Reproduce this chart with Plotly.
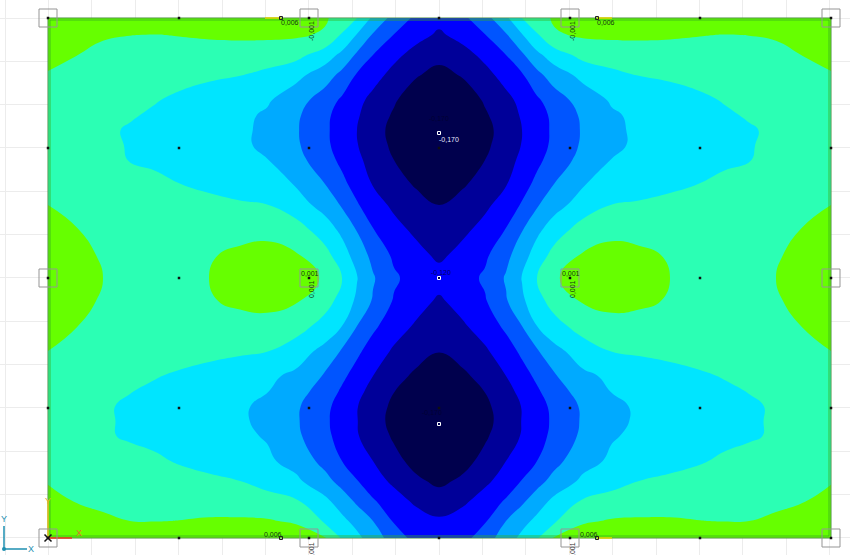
import numpy as np
import plotly.graph_objects as go

# Contour grid: left half of the slab, mirrored about the centre line
x_left = [48, 75, 103, 130, 155, 179, 209, 240, 267, 296, 325, 342, 357, 373, 394, 416, 439]
y_rows = [18, 35, 55, 75, 100, 115, 130, 145, 160, 185, 205, 230, 255, 278, 301, 326, 351, 376, 391, 406, 421, 436, 461, 481, 501, 521, 538]

# Contour band position (0 = top colour, 8 = darkest)
band_left = [
 [.35,.3,.3,.3,.3,.3,.3,.3,.3,.45,.88,1.42,2,3.2,4.36,5.2,5.7],
 [.7,.8,.92,.99,1.02,.97,.9,.85,.85,.87,1.12,2.1,3.07,4.1,5.03,5.67,6.15],
 [.8,.98,1.2,1.3,1.35,1.35,1.35,1.4,1.45,1.7,2.5,3.25,4.16,5,5.75,6.35,6.65],
 [1.05,1.2,1.35,1.5,1.6,1.72,1.85,1.97,2.27,2.72,3.52,4.28,5.1,5.64,6.3,6.9,7.35],
 [1.2,1.35,1.5,1.7,1.95,2.15,2.4,2.65,2.88,3.55,4.5,5.15,5.73,6.26,6.88,7.6,8.5],
 [1.3,1.48,1.68,1.92,2.12,2.3,2.53,2.8,3.12,3.83,4.78,5.4,5.9,6.45,7.12,7.9,9],
 [1.4,1.62,1.85,2.08,2.25,2.45,2.62,2.82,3.2,3.9,4.83,5.44,6,6.57,7.3,8.2,9.25],
 [1.42,1.62,1.83,2.05,2.23,2.42,2.6,2.85,3.17,3.85,4.8,5.4,5.96,6.52,7.2,8.05,9.2],
 [1.35,1.55,1.8,2.03,2.15,2.35,2.55,2.8,2.97,3.66,4.58,5.23,5.8,6.34,7,7.8,8.8],
 [1.15,1.3,1.45,1.6,1.8,1.97,2.2,2.5,2.77,3.03,3.97,4.73,5.37,6.03,6.55,7.1,7.6],
 [1,1.15,1.3,1.45,1.55,1.62,1.7,1.85,1.97,2.55,3.37,4.1,4.9,5.58,6.19,6.58,7],
 [.85,.97,1.15,1.27,1.33,1.35,1.3,1.2,1.15,1.55,2.5,3.22,4.05,4.95,5.67,6.2,6.6],
 [.6,.85,1.05,1.2,1.27,1.22,1.05,.88,.82,.92,1.68,2.56,3.42,4.28,5.18,5.68,6.2],
 [.5,.75,1,1.2,1.25,1.2,1,.8,.7,.8,1.05,2,2.95,3.9,4.85,5.4,5.6],
 [.6,.85,1.05,1.2,1.27,1.22,1.05,.88,.82,.92,1.6,2.37,3.18,4.1,5.09,5.6,6.15],
 [.9,.98,1.15,1.27,1.35,1.37,1.33,1.23,1.2,1.55,2.39,3,4,4.8,5.55,6.12,6.55],
 [1,1.15,1.3,1.45,1.55,1.63,1.72,1.85,1.97,2.53,3.29,4.1,4.8,5.44,6.14,6.55,6.95],
 [1.2,1.4,1.6,1.78,1.95,2.12,2.36,2.6,2.82,3.19,4.12,4.8,5.38,6,6.62,7.2,7.8],
 [1.3,1.5,1.72,1.97,2.15,2.33,2.55,2.75,2.96,3.58,4.45,5.13,5.75,6.28,6.97,7.7,8.6],
 [1.4,1.62,1.9,2.12,2.27,2.44,2.65,2.87,3.2,3.85,4.76,5.38,5.96,6.52,7.2,8,9.1],
 [1.42,1.65,1.88,2.14,2.3,2.46,2.65,2.87,3.23,3.88,4.83,5.43,5.97,6.57,7.3,8.2,9.25],
 [1.35,1.58,1.88,2.12,2.25,2.42,2.62,2.83,3.07,3.8,4.75,5.37,5.93,6.47,7.13,7.95,9],
 [1.2,1.35,1.5,1.65,1.85,2.08,2.34,2.61,2.84,3.34,4.32,5,5.48,6,6.72,7.3,7.9],
 [1.05,1.2,1.32,1.45,1.55,1.65,1.8,2,2.39,2.81,3.67,4.36,4.96,5.54,6.22,6.83,7.2],
 [.78,1.02,1.1,1.18,1.22,1.25,1.3,1.45,1.6,1.9,2.77,3.48,4.18,4.9,5.54,6.2,6.55],
 [.5,.75,.92,1,1.02,.99,.93,.9,.92,1.12,2.14,2.75,3.33,4,5.1,5.5,5.85],
 [.3,.3,.3,.3,.3,.3,.3,.3,.3,.5,.9,2.1,2.75,3.5,4.45,5.35,5.6],
]
band_colors = ["#00004d", "#000099", "#0000ff", "#0055ff", "#00aaff", "#00e5ff", "#2bffb4", "#66ff00"]

# Mesh
node_x = [48, 179, 309, 439, 570, 700, 831]
node_y = [18, 148, 278, 408, 538]
support_x = [48, 309, 570, 831, 48, 309, 570, 831, 48, 309, 570, 831]
support_y = [18, 18, 18, 18, 278, 278, 278, 278, 538, 538, 538, 538]
peak_x = [439, 439, 439]
peak_y = [133, 278, 424]
edge_mark_x = [281, 597, 281, 597]
edge_mark_y = [18, 18, 538, 538]

label_dark = "#123a12"
labels = [
 ("0,006", 290, 22, 0, label_dark), ("-0,001", 311, 31, -90, label_dark),
 ("0,006", 606, 22, 0, label_dark), ("-0,001", 572, 31, -90, label_dark),
 ("0,001", 310, 273, 0, label_dark), ("0,001", 571, 273, 0, label_dark),
 ("0,001", 311, 289, -90, label_dark), ("0,001", 572, 289, -90, label_dark),
 ("0,006", 273, 534, 0, label_dark), ("0,006", 589, 534, 0, label_dark),
 (",001", 311, 549, -90, "#333333"), (",001", 572, 549, -90, "#333333"),
 ("-0,170", 449, 139, 0, "#e8e8ff"), ("-0,170", 439, 118, 0, "#000033"),
 ("-0,170", 432, 412, 0, "#000033"), ("-0,120", 441, 272, 0, "#000066"),
]

x_all = np.array(x_left + [2 * 439.5 - v for v in x_left[-2::-1]])
band = np.array(band_left)
band_all = np.hstack([band, band[:, -2::-1]])
stress = 0.015 - 0.020 * band_all

n = len(band_colors)
scale = []
for i, c in enumerate(band_colors):
    scale += [[i / n, c], [(i + 1) / n, c]]

fig = go.Figure()
fig.add_trace(go.Contour(
    x=x_all, y=y_rows, z=stress, zmin=-0.145, zmax=0.015, colorscale=scale, showscale=False,
    autocontour=False, contours=dict(start=-0.125, end=-0.005, size=0.02, coloring="fill", showlines=False),
    line=dict(width=0, smoothing=1.3), hoverinfo="skip",
))

def seg(xs, ys, color, width=1):
    fig.add_trace(go.Scatter(x=xs, y=ys, mode="lines", line=dict(color=color, width=width), hoverinfo="skip"))

frame_x = [48, 831, 831, 48, 48]
frame_y = [18, 18, 538, 538, 18]
seg([50, 829, 829, 50, 50], [20, 20, 536, 536, 20], "#38b020", 0.8)
seg(frame_x, frame_y, "#4a8f40", 1)
seg([265, 281], [18, 18], "#e8d800", 1.5)
seg([597, 612], [18, 18], "#e8d800", 1.5)
seg([597, 612], [538, 538], "#e8d800", 1.5)
seg([48, 72], [538, 538], "#f03020", 1.5)
seg([48, 48], [538, 500], "#e8c020", 1.5)
seg([4, 4], [549, 526], "#1e8fb0", 1.5)
seg([4, 27], [549, 549], "#1e8fb0", 1.5)

mx, my = np.meshgrid(node_x, node_y)
fig.add_trace(go.Scatter(x=mx.ravel(), y=my.ravel(), mode="markers",
    marker=dict(symbol="square", size=2.5, color="#101010"), hoverinfo="skip"))
fig.add_trace(go.Scatter(x=support_x, y=support_y, mode="markers",
    marker=dict(symbol="square-open", size=18, color="#959595", line=dict(width=1)), hoverinfo="skip"))
fig.add_trace(go.Scatter(x=peak_x, y=peak_y, mode="markers",
    marker=dict(symbol="square", size=3, color="#000050", line=dict(color="white", width=1)), hoverinfo="skip"))
fig.add_trace(go.Scatter(x=edge_mark_x, y=edge_mark_y, mode="markers",
    marker=dict(symbol="square-open", size=3, color="#202020", line=dict(width=1)), hoverinfo="skip"))
fig.add_trace(go.Scatter(x=[48], y=[538], mode="markers",
    marker=dict(symbol="x-thin-open", size=7, color="#111111", line=dict(width=1.5, color="#111111")), hoverinfo="skip"))
fig.add_trace(go.Scatter(x=[4], y=[549], mode="markers",
    marker=dict(symbol="circle", size=4, color="#1e8fb0"), hoverinfo="skip"))

anns = [dict(x=x, y=y, xref="x", yref="y", text=t, showarrow=False, textangle=a,
             font=dict(family="Liberation Sans", size=7, color=c)) for t, x, y, a, c in labels]
anns += [
 dict(x=4, y=519, xref="x", yref="y", text="Y", showarrow=False, font=dict(family="Liberation Sans", size=9, color="#1e8fb0")),
 dict(x=31, y=549, xref="x", yref="y", text="X", showarrow=False, font=dict(family="Liberation Sans", size=9, color="#1e8fb0")),
 dict(x=79, y=533, xref="x", yref="y", text="X", showarrow=False, font=dict(family="Liberation Sans", size=9, color="#e07030")),
 dict(x=48, y=501, xref="x", yref="y", text="Y", showarrow=False, font=dict(family="Liberation Sans", size=9, color="#d8b030")),
]

fig.update_layout(
    width=850, height=555, margin=dict(l=0, r=0, t=0, b=0), showlegend=False,
    paper_bgcolor="white", plot_bgcolor="white", annotations=anns,
    xaxis=dict(range=[0, 850], visible=True, showticklabels=False, ticks="", zeroline=False, showline=False,
               showgrid=True, gridcolor="#ececec", gridwidth=1, tick0=5, dtick=43.4),
    yaxis=dict(range=[555, 0], visible=True, showticklabels=False, ticks="", zeroline=False, showline=False,
               showgrid=True, gridcolor="#ececec", gridwidth=1, tick0=18, dtick=43.33),
)
fig.write_html("out.html", post_script="document.body.style.margin='0';", config=dict(displayModeBar=False))
